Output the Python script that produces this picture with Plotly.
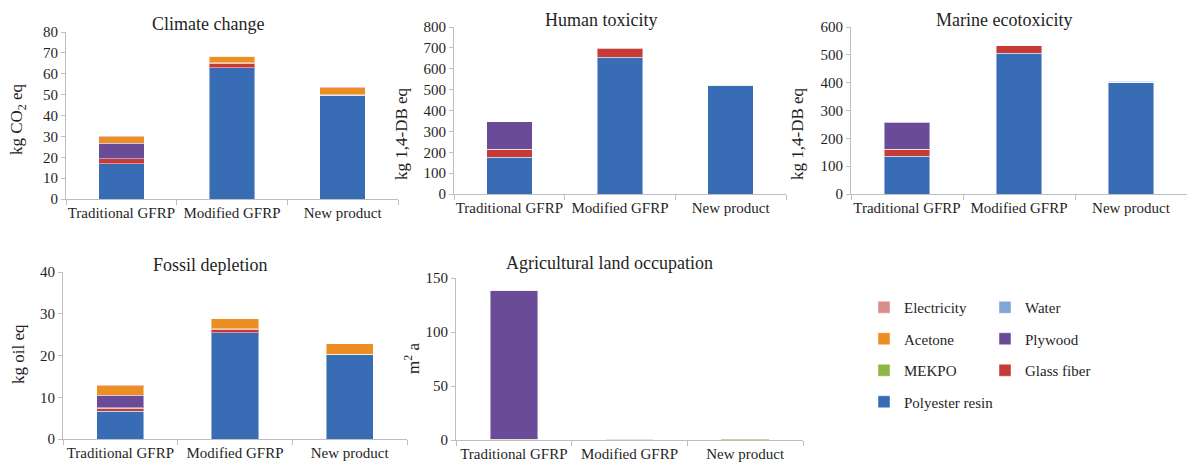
import plotly.graph_objects as go

W, H = 1187, 464

PRODUCTS = ["Traditional GFRP", "Modified GFRP", "New product"]

# Stacking order, bottom to top
MATERIALS = ["Polyester resin", "Glass fiber", "MEKPO", "Plywood", "Acetone", "Water", "Electricity"]
COLORS = ["#386DB6", "#C73B37", "#8DB646", "#6A4B98", "#EC8E22", "#7EA6D8", "#D98C8C"]
# Two-column legend: which column and which row each material sits in
LEGEND_COLUMN = ["legend", "legend2", "legend", "legend2", "legend", "legend2", "legend"]
LEGEND_ROW = [4, 3, 3, 2, 2, 1, 1]

# Impact values per material (rows follow MATERIALS, columns follow PRODUCTS)
CLIMATE_CHANGE = [
    [16.8, 62.8, 49.8],
    [2.4, 2.2, 0.0],
    [0.2, 0.2, 0.2],
    [7.2, 0.0, 0.0],
    [3.2, 3.2, 3.3],
    [0.05, 0.05, 0.05],
    [0.1, 0.1, 0.1],
]
HUMAN_TOXICITY = [
    [176, 656, 519],
    [38, 43, 0],
    [1, 1, 1],
    [130, 0, 0],
    [1, 1, 3],
    [0.3, 0.3, 0.3],
    [0.5, 0.5, 0.5],
]
MARINE_ECOTOXICITY = [
    [136, 506, 401],
    [24, 27, 0],
    [1, 1, 1],
    [97, 0, 0],
    [1, 1, 2],
    [0.3, 0.3, 0.3],
    [0.5, 0.5, 0.5],
]
FOSSIL_DEPLETION = [
    [6.6, 25.5, 20.2],
    [0.8, 0.8, 0.0],
    [0.1, 0.1, 0.1],
    [3.0, 0.0, 0.0],
    [2.3, 2.4, 2.5],
    [0.0, 0.0, 0.0],
    [0.05, 0.05, 0.05],
]
AGRI_LAND = [
    [0.4, 0.5, 0.4],
    [0.0, 0.1, 0.0],
    [0.3, 0.7, 0.6],
    [137.8, 0.0, 0.0],
    [0.0, 0.0, 0.0],
    [0.0, 0.0, 0.0],
    [0.0, 0.0, 0.0],
]

PANELS = [
    # title, y-axis title, data, y max, y step
    ("Climate change", "kg CO<sub>2</sub> eq", CLIMATE_CHANGE, 80, 10),
    ("Human toxicity", "kg 1,4-DB eq", HUMAN_TOXICITY, 800, 100),
    ("Marine ecotoxicity", "kg 1,4-DB eq", MARINE_ECOTOXICITY, 600, 100),
    ("Fossil depletion", "kg oil eq", FOSSIL_DEPLETION, 40, 10),
    ("Agricultural land occupation", "m<sup>2</sup> a", AGRI_LAND, 150, 50),
]

# Plot areas in pixels: left, right, top, bottom
BOXES = [
    (66, 398, 32, 199),
    (454, 786, 27, 194),
    (851, 1187, 27, 194),
    (63, 407, 272, 439),
    (456, 803, 278, 440),
]
# Panel title centres and y-axis title centres in pixels
TITLE_POS = [(208, 24), (601, 20), (1004, 20), (210, 265), (610, 263)]
YTITLE_POS = [(18, 119), (402, 134), (798, 134), (18, 354), (412, 359)]

FONT = "Liberation Serif"
TXT = "#1f1f1f"
AXIS = "#BFBFBF"

fig = go.Figure()
layout = dict(
    width=W, height=H,
    margin=dict(l=0, r=0, t=0, b=0),
    paper_bgcolor="white", plot_bgcolor="white",
    barmode="stack", bargap=0.59,
    font=dict(family=FONT, size=15, color=TXT),
)
annotations = []

for i, (title, ytitle, data, ymax, ystep) in enumerate(PANELS):
    n = "" if i == 0 else str(i + 1)
    l, r, t, b = BOXES[i]
    for j, mat in enumerate(MATERIALS):
        fig.add_trace(go.Bar(
            x=PRODUCTS, y=data[j], name=mat,
            marker=dict(color=COLORS[j], line=dict(color="rgba(255,255,255,0.45)", width=1)),
            legendgroup=mat, showlegend=(i == 0),
            legend=LEGEND_COLUMN[j], legendrank=LEGEND_ROW[j],
            xaxis="x" + n, yaxis="y" + n,
        ))
    layout["xaxis" + n] = dict(
        domain=[l / W, min(r / W, 1.0)], anchor="y" + n,
        type="category", range=[-0.5, 2.5], automargin=False,
        showline=True, linecolor=AXIS, linewidth=1,
        ticks="outside", tickson="boundaries", ticklen=5, tickcolor=AXIS,
        tickangle=0,
        showgrid=False, tickfont=dict(size=15, family=FONT, color=TXT),
        fixedrange=True,
    )
    layout["yaxis" + n] = dict(
        domain=[1 - b / H, 1 - t / H], anchor="x" + n,
        range=[0, ymax], dtick=ystep, tick0=0, automargin=False,
        showline=True, linecolor=AXIS, linewidth=1,
        ticks="outside", ticklen=4, tickcolor=AXIS,
        showgrid=False, zeroline=False,
        tickfont=dict(size=15, family=FONT, color=TXT),
        fixedrange=True,
    )
    tx, ty = TITLE_POS[i]
    annotations.append(dict(
        text=title, x=tx / W, y=1 - ty / H, xref="paper", yref="paper",
        xanchor="center", yanchor="middle", showarrow=False,
        font=dict(size=18, family=FONT, color=TXT),
    ))
    yx, yy = YTITLE_POS[i]
    annotations.append(dict(
        text=ytitle, x=yx / W, y=1 - yy / H, xref="paper", yref="paper",
        xanchor="center", yanchor="middle", showarrow=False, textangle=-90,
        font=dict(size=17, family=FONT, color=TXT),
    ))

legend_style = dict(
    yanchor="top", xanchor="left", y=1 - 291 / H,
    traceorder="grouped", tracegroupgap=9,
    itemwidth=30, bgcolor="rgba(0,0,0,0)",
    font=dict(size=15, family=FONT, color=TXT),
)
layout["legend"] = dict(legend_style, x=864 / W)
layout["legend2"] = dict(legend_style, x=985 / W)
layout["annotations"] = annotations

fig.update_layout(**layout)
fig.write_html("out.html")
